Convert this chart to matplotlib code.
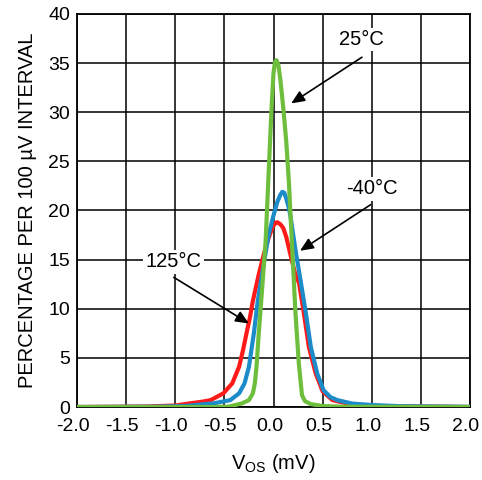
import matplotlib
matplotlib.use("Agg")
import matplotlib.pyplot as plt
from matplotlib.transforms import ScaledTranslation

plt.rcParams['font.family'] = ['Liberation Sans', 'DejaVu Sans']

# 125°C (red)
red_x = [-2.0, -1.3, -1.0, -0.85, -0.72, -0.64, -0.51, -0.42, -0.35, -0.31, -0.275, -0.24,
         -0.21, -0.15, -0.10, -0.05, -0.01, 0.02, 0.04, 0.07, 0.10, 0.13, 0.17, 0.22,
         0.26, 0.31, 0.36, 0.43, 0.50, 0.60, 0.80, 1.0, 2.0]
red_y = [0, 0.05, 0.15, 0.37, 0.55, 0.7, 1.39, 2.4, 4.1, 5.8, 7.5, 9.1,
         10.8, 13.5, 15.5, 17.2, 18.3, 18.75, 18.8, 18.6, 18.2, 17.3, 15.6, 13.6,
         12.6, 9.5, 6.1, 3.4, 1.6, 0.7, 0.25, 0.1, 0]

# -40°C (blue)
blue_x = [-2.0, -1.2, -0.9, -0.61, -0.44, -0.35, -0.295, -0.25, -0.225, -0.2, -0.16, -0.10,
          -0.05, 0.0, 0.04, 0.07, 0.09, 0.11, 0.13, 0.15, 0.17, 0.22, 0.275, 0.33,
          0.38, 0.445, 0.51, 0.58, 0.65, 0.80, 1.0, 1.3, 2.0]
blue_y = [0, 0.03, 0.1, 0.37, 0.7, 1.39, 2.4, 4.1, 5.8, 7.5, 10.8, 14.5,
          17.5, 19.5, 20.9, 21.6, 21.9, 21.8, 21.2, 20.5, 19.6, 16.2, 12.9, 9.5,
          6.1, 3.4, 1.7, 1.0, 0.7, 0.35, 0.2, 0.08, 0.02]

# 25°C (green)
green_x = [-2.0, -0.6, -0.45, -0.32, -0.25, -0.21, -0.19, -0.173, -0.15, -0.125, -0.08, -0.05,
           -0.02, 0.0, 0.015, 0.03, 0.05, 0.07, 0.10, 0.13, 0.156, 0.19, 0.224, 0.258,
           0.29, 0.32, 0.377, 0.5, 0.7, 2.0]
green_y = [0, 0, 0.05, 0.37, 0.7, 1.39, 2.4, 4.1, 7.5, 10.8, 16.9, 23.7,
           30.4, 34.0, 35.1, 35.3, 34.8, 33.3, 30.4, 27.0, 23.0, 16.2, 9.5, 4.4,
           1.2, 0.6, 0.3, 0.1, 0.03, 0]

x_ticks = [-2.0, -1.5, -1.0, -0.5, 0.0, 0.5, 1.0, 1.5, 2.0]
y_ticks = [0, 5, 10, 15, 20, 25, 30, 35, 40]

fig = plt.figure(figsize=(4.82, 4.80), dpi=100)
ax = fig.add_axes([77/482, 1 - 407/480, (470-77)/482, (407-14)/480])

lw = 3.0
ax.plot(red_x, red_y, color='#FF1A1A', lw=lw, solid_joinstyle='round', solid_capstyle='round', zorder=3)
ax.plot(blue_x, blue_y, color='#1B8BC9', lw=lw, solid_joinstyle='round', solid_capstyle='round', zorder=4)
ax.plot(green_x, green_y, color='#6DBE3D', lw=lw, solid_joinstyle='round', solid_capstyle='round', zorder=5)

ax.set_xlim(-2.0, 2.0)
ax.set_ylim(0, 40)
ax.set_xticks(x_ticks)
ax.set_xticklabels([f"{v:.1f}" for v in x_ticks])
ax.set_yticks(y_ticks)
ax.set_yticklabels([str(v) for v in y_ticks])
ax.tick_params(length=0, labelsize=14)
ax.tick_params(axis='x', pad=8)
ax.tick_params(axis='y', pad=5)
shift = ScaledTranslation(-4/100, 0, fig.dpi_scale_trans)
for lab in ax.get_xticklabels():
    lab.set_transform(lab.get_transform() + shift)
ax.grid(True, color='black', lw=1.1)
ax.set_axisbelow(True)
for s in ax.spines.values():
    s.set_color('black')
    s.set_linewidth(1.3)

ax.set_xlabel(r"V$_{\mathregular{OS}}$ (mV)", fontsize=14.5, labelpad=12)
ax.set_ylabel("PERCENTAGE PER 100 µV INTERVAL", fontsize=14.5, labelpad=8)

bbox = dict(boxstyle='square,pad=0.12', fc='white', ec='none')
arrow = dict(arrowstyle='-|>,head_length=0.8,head_width=0.35', color='black', lw=1.2,
             shrinkA=0, shrinkB=0)
ax.annotate("", xy=(0.18, 30.9), xytext=(0.90, 35.6), arrowprops=arrow, zorder=6)
ax.annotate("", xy=(0.27, 15.9), xytext=(0.99, 20.6), arrowprops=arrow, zorder=6)
ax.annotate("", xy=(-0.25, 8.5), xytext=(-1.015, 13.2), arrowprops=arrow, zorder=6)
ax.text(0.90, 37.4, "25°C", fontsize=14.5, ha='center', va='center', bbox=bbox, zorder=7)
ax.text(1.005, 22.2, "-40°C", fontsize=14.5, ha='center', va='center', bbox=bbox, zorder=7)
ax.text(-1.015, 14.8, "125°C", fontsize=14.5, ha='center', va='center', bbox=bbox, zorder=7)

fig.savefig("out.png", dpi=100, facecolor='white')
